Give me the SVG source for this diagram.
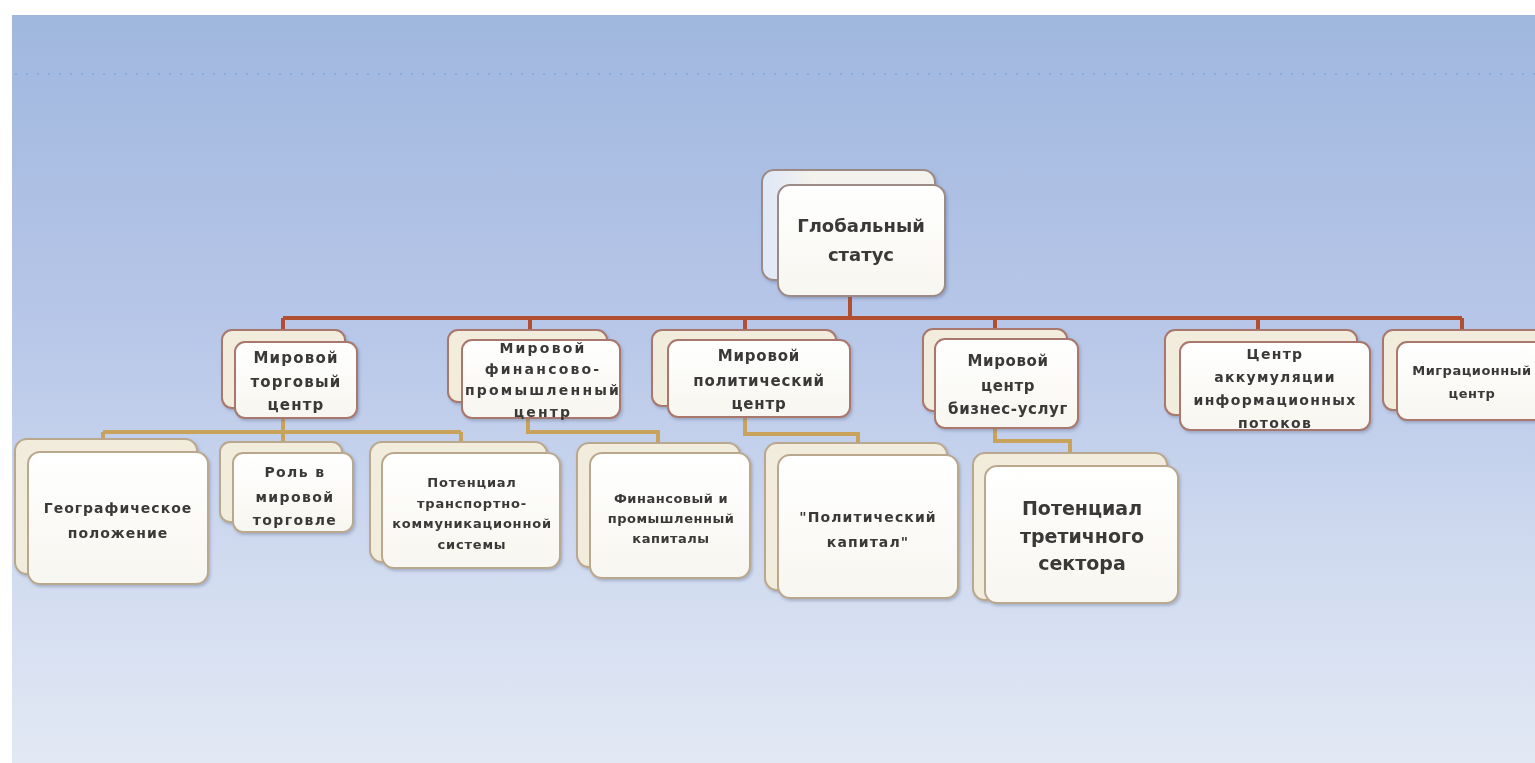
<svg xmlns="http://www.w3.org/2000/svg" width="1535" height="763" viewBox="0 0 1535 763">
<defs>
<linearGradient id="bg" x1="0" y1="0" x2="0" y2="1">
<stop offset="0" stop-color="#a0b7de"/>
<stop offset="0.4" stop-color="#b6c6e8"/>
<stop offset="0.75" stop-color="#d2dcf0"/>
<stop offset="1" stop-color="#e2e9f4"/>
</linearGradient>
<linearGradient id="front" x1="0" y1="0" x2="0" y2="1">
<stop offset="0" stop-color="#ffffff"/>
<stop offset="1" stop-color="#f7f6f0"/>
</linearGradient>
<linearGradient id="rootback" x1="0" y1="0" x2="1" y2="0">
<stop offset="0" stop-color="#dfe8f8"/>
<stop offset="0.3" stop-color="#f4f2ec"/>
</linearGradient>
<filter id="sh" x="-10%" y="-10%" width="130%" height="130%">
<feDropShadow dx="1.5" dy="2" stdDeviation="1.5" flood-color="#506080" flood-opacity="0.35"/>
</filter>
</defs>
<style>
.back{fill:#f2ecdc;stroke-width:2}
.front{fill:url(#front);stroke-width:2}
.l1 .back,.l1 .front{stroke:#9c8a86}
.l1 .back{fill:url(#rootback)}
.l2 .back,.l2 .front{stroke:#a9786c}
.l3 .back,.l3 .front{stroke:#b9a88e}
text{font-family:"DejaVu Sans","Liberation Sans",sans-serif;font-weight:bold;fill:#3a3838;text-anchor:middle}
.c1{fill:none;stroke:#b34f31;stroke-width:4}
.c2{fill:none;stroke:#c9a35c;stroke-width:4}
</style>
<rect x="0" y="0" width="1535" height="763" fill="#ffffff"/>
<rect x="12" y="15" width="1523" height="748" fill="url(#bg)"/>
<line x1="15" y1="74" x2="1535" y2="74" stroke="#7fa7de" stroke-width="1.5" stroke-dasharray="2 9"/>

<g id="connectors">
<path class="c1" d="M850 296 V318 M283 318 H1462 M283 318 V332 M530 318 V332 M745 318 V332 M995 318 V332 M1258 318 V332 M1462 318 V332"/>
<path class="c2" d="M283 418 V432 M103 432 H461 M103 432 V442 M283 432 V444 M461 432 V444"/>
<path class="c2" d="M528 418 V432 H658 V445"/>
<path class="c2" d="M745 417 V434 H858 V445"/>
<path class="c2" d="M995 428 V441 H1070 V455"/>
</g>

<g id="n-root" class="l1" filter="url(#sh)">
<rect class="back" x="762" y="170" width="173" height="110" rx="12"/>
<rect class="front" x="778" y="185" width="167" height="111" rx="12"/>
<text font-size="18"><tspan x="861" y="232">Глобальный</tspan><tspan x="861" y="261">статус</tspan></text>
</g>

<g id="n-trade" class="l2" filter="url(#sh)">
<rect class="back" x="222" y="330" width="123" height="78" rx="10"/>
<rect class="front" x="235" y="342" width="122" height="76" rx="10"/>
<text font-size="15" letter-spacing="1.2"><tspan x="296" y="363">Мировой</tspan><tspan x="296" y="387">торговый</tspan><tspan x="296" y="410">центр</tspan></text>
</g>

<g id="n-fin" class="l2" filter="url(#sh)">
<rect class="back" x="448" y="330" width="159" height="72" rx="10"/>
<rect class="front" x="462" y="340" width="158" height="78" rx="10"/>
<text font-size="14" letter-spacing="2.2"><tspan x="543" y="353">Мировой</tspan><tspan x="543" y="374">финансово-</tspan><tspan x="543" y="395">промышленный</tspan><tspan x="543" y="417">центр</tspan></text>
</g>

<g id="n-pol" class="l2" filter="url(#sh)">
<rect class="back" x="652" y="330" width="184" height="76" rx="10"/>
<rect class="front" x="668" y="340" width="182" height="77" rx="10"/>
<text font-size="15" letter-spacing="0.8"><tspan x="759" y="361">Мировой</tspan><tspan x="759" y="386">политический</tspan><tspan x="759" y="409">центр</tspan></text>
</g>

<g id="n-biz" class="l2" filter="url(#sh)">
<rect class="back" x="923" y="329" width="144" height="82" rx="10"/>
<rect class="front" x="935" y="339" width="143" height="89" rx="10"/>
<text font-size="15" letter-spacing="0.6"><tspan x="1008" y="366">Мировой</tspan><tspan x="1008" y="391">центр</tspan><tspan x="1008" y="414">бизнес-услуг</tspan></text>
</g>

<g id="n-info" class="l2" filter="url(#sh)">
<rect class="back" x="1165" y="330" width="192" height="85" rx="10"/>
<rect class="front" x="1180" y="342" width="190" height="88" rx="10"/>
<text font-size="14" letter-spacing="1.3"><tspan x="1275" y="359">Центр</tspan><tspan x="1275" y="382">аккумуляции</tspan><tspan x="1275" y="405">информационных</tspan><tspan x="1275" y="428">потоков</tspan></text>
</g>

<g id="n-migr" class="l2" filter="url(#sh)">
<rect class="back" x="1383" y="330" width="165" height="80" rx="10"/>
<rect class="front" x="1397" y="342" width="160" height="78" rx="10"/>
<text font-size="13" letter-spacing="0.5"><tspan x="1472" y="375">Миграционный</tspan><tspan x="1472" y="398">центр</tspan></text>
</g>

<g id="n-geo" class="l3" filter="url(#sh)">
<rect class="back" x="15" y="439" width="182" height="135" rx="12"/>
<rect class="front" x="28" y="452" width="180" height="132" rx="12"/>
<text font-size="14" letter-spacing="1"><tspan x="118" y="513">Географическое</tspan><tspan x="118" y="538">положение</tspan></text>
</g>

<g id="n-role" class="l3" filter="url(#sh)">
<rect class="back" x="220" y="442" width="122" height="80" rx="10"/>
<rect class="front" x="233" y="453" width="120" height="79" rx="10"/>
<text font-size="14" letter-spacing="1.4"><tspan x="295" y="477">Роль в</tspan><tspan x="295" y="502">мировой</tspan><tspan x="295" y="525">торговле</tspan></text>
</g>

<g id="n-transport" class="l3" filter="url(#sh)">
<rect class="back" x="370" y="442" width="177" height="120" rx="12"/>
<rect class="front" x="382" y="453" width="178" height="115" rx="12"/>
<text font-size="13" letter-spacing="0.8"><tspan x="472" y="487">Потенциал</tspan><tspan x="472" y="508">транспортно-</tspan><tspan x="472" y="528">коммуникационной</tspan><tspan x="472" y="549">системы</tspan></text>
</g>

<g id="n-capital" class="l3" filter="url(#sh)">
<rect class="back" x="577" y="443" width="163" height="124" rx="12"/>
<rect class="front" x="590" y="453" width="160" height="125" rx="12"/>
<text font-size="13" letter-spacing="0.5"><tspan x="671" y="503">Финансовый и</tspan><tspan x="671" y="523">промышленный</tspan><tspan x="671" y="543">капиталы</tspan></text>
</g>

<g id="n-polcap" class="l3" filter="url(#sh)">
<rect class="back" x="765" y="443" width="182" height="147" rx="12"/>
<rect class="front" x="778" y="455" width="180" height="143" rx="12"/>
<text font-size="14" letter-spacing="1.1"><tspan x="868" y="522">"Политический</tspan><tspan x="868" y="547">капитал"</tspan></text>
</g>

<g id="n-tertiary" class="l3" filter="url(#sh)">
<rect class="back" x="973" y="453" width="194" height="147" rx="12"/>
<rect class="front" x="985" y="466" width="193" height="137" rx="12"/>
<text font-size="19"><tspan x="1082" y="515">Потенциал</tspan><tspan x="1082" y="543">третичного</tspan><tspan x="1082" y="570">сектора</tspan></text>
</g>
</svg>
